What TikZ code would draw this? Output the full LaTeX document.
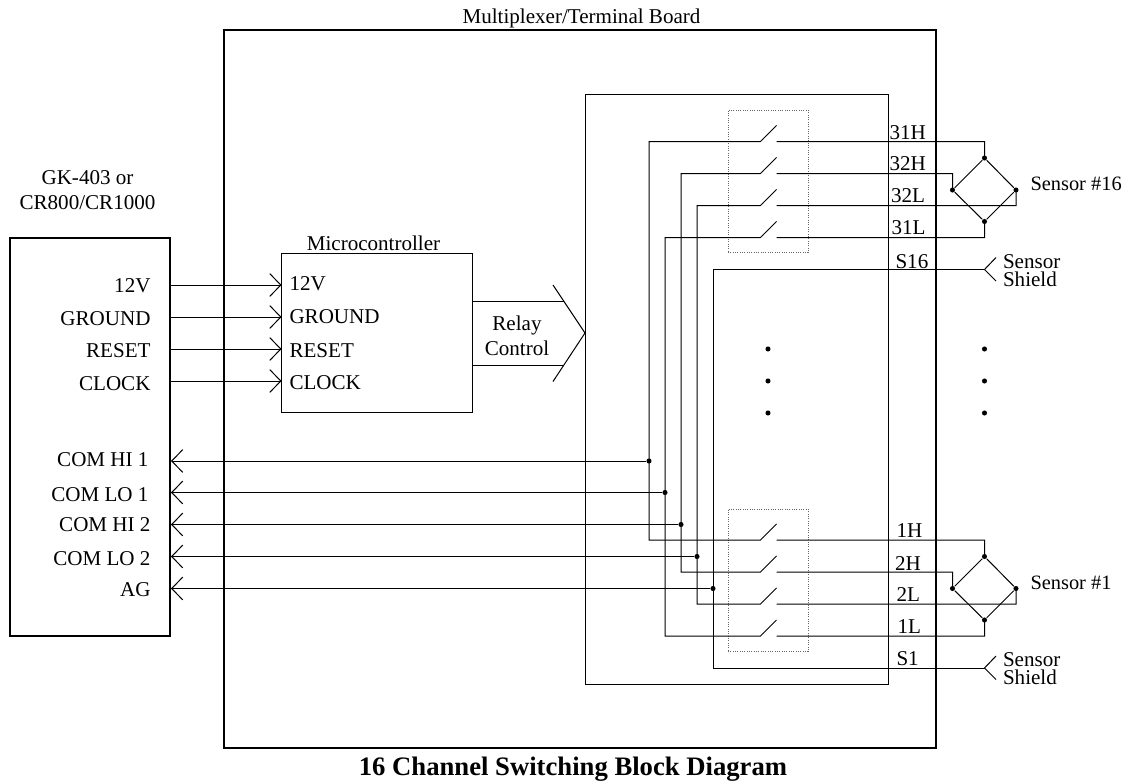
\documentclass[tikz,border=0pt]{standalone}
\usepackage{fontspec}
\setmainfont{Liberation Serif}
\usepackage{tikz}
\usetikzlibrary{arrows.meta, positioning}

\begin{document}
\begin{tikzpicture}[
        x=0.75pt, y=-0.75pt,
        line width=0.75pt,
        every node/.style={font=\fontsize{15.8}{18}\selectfont},
        frame/.style={rectangle, draw, line width=2.2pt, anchor=north west, inner sep=0pt, outer sep=0pt},
        box/.style={rectangle, draw, anchor=north west, inner sep=0pt, outer sep=0pt},
        relaybox/.style={rectangle, draw=black!60, densely dotted, anchor=north west, inner sep=0pt, outer sep=0pt, minimum width=60pt, minimum height=107pt},
        arrow/.style={-{Straight Barb[length=8.25pt, width=17pt, line width=0.75pt]}},
        wire/.style={line width=0.75pt},
        dot/.style={circle, fill=black, inner sep=0pt, minimum size=3.8pt},
        pin/.style={anchor=base west, inner sep=0pt},
        portl/.style={anchor=base east, inner sep=0pt},
        label/.style={anchor=base, align=center, inner sep=0pt},
        sensorname/.style={anchor=base west, inner sep=0pt, font=\fontsize{15.3}{18}\selectfont},
        shield/.style={anchor=north west, align=left, inner sep=0pt, font=\fontsize{15.8}{13.2}\selectfont}
    ]
    \useasboundingbox (0,0) rectangle (1133,782);

    % boxes
    \node[frame, minimum width=534pt, minimum height=538.5pt] (board) at (224,30) {};
    \node[frame, minimum width=120pt, minimum height=298.5pt] (logger) at (10,238) {};
    \node[box, minimum width=143.5pt, minimum height=119pt] (micro) at (281.5,253.5) {};
    \node[box, minimum width=227.5pt, minimum height=442.5pt] (mux) at (585,94) {};
    \node[relaybox] (relaytop) at (728,110) {};
    \node[relaybox] (relaybot) at (728,509) {};

    % titles
    \node[label] (boardname) at (581.5,23) {Multiplexer/Terminal Board};
    \node[label] (gkname) at (87.5,184) {GK-403 or};
    \node[label] (crname) at (87.5,209) {CR800/CR1000};
    \node[label] (microname) at (373.5,250) {Microcontroller};
    \node[label] (relayname) at (517,330.5) {Relay};
    \node[label] (ctrlname) at (517,355) {Control};
    \node[label, font=\fontsize{20}{22}\selectfont\bfseries] (title) at (573,775.5) {16 Channel Switching Block Diagram};

    % logger terminals
    \node[portl] (p12v) at (151,292.5) {12V};
    \node[portl] (pgnd) at (151,325.5) {GROUND};
    \node[portl] (prst) at (151,357) {RESET};
    \node[portl] (pclk) at (151,390) {CLOCK};
    \node[portl] (phi1) at (149,466.5) {COM HI 1};
    \node[portl] (plo1) at (149,501) {COM LO 1};
    \node[portl] (phi2) at (151,531.5) {COM HI 2};
    \node[portl] (plo2) at (151,565) {COM LO 2};
    \node[portl] (pag) at (151,596) {AG};

    % microcontroller terminals
    \node[pin] (m12v) at (289,290.5) {12V};
    \node[pin] (mgnd) at (289,323.5) {GROUND};
    \node[pin] (mrst) at (289,357) {RESET};
    \node[pin] (mclk) at (289,389) {CLOCK};

    \draw[arrow] (171,285) -- (281.5,285);
    \draw[arrow] (171,317) -- (281.5,317);
    \draw[arrow] (171,349) -- (281.5,349);
    \draw[arrow] (171,381) -- (281.5,381);

    % relay control
    \coordinate (chevtop) at (553,285);
    \coordinate (chevtip) at (585,333);
    \coordinate (chevbot) at (553,381.5);
    \draw (chevtop) -- (chevtip) -- (chevbot);
    \draw (473,301.5) -- (563.5,301.5);
    \draw (473,365.5) -- (563.5,365.5);

    % junctions on the common lines
    \node[dot] (jhi1) at (649,461) {};
    \node[dot] (jlo1) at (665,492.5) {};
    \node[dot] (jhi2) at (681,524.5) {};
    \node[dot] (jlo2) at (697,556.5) {};
    \node[dot] (jag) at (713,588.5) {};

    \draw[arrow] (jhi1) -- (171,461);
    \draw[arrow] (jlo1) -- (171,492.5);
    \draw[arrow] (jhi2) -- (171,524.5);
    \draw[arrow] (jlo2) -- (171,556.5);
    \draw[arrow] (jag) -- (171,588.5);

    % upper relays
    \draw[wire] (984.5,158) -- (984.5,141.5) -- (776.5,141.5) (776.5,125.5) -- (760.5,141.5) -- (649,141.5) -- (649,540) -- (760.5,540) -- (776.5,524) (776.5,540) -- (984.5,540) -- (984.5,556.5);
    \draw[wire] (952.5,190) -- (952.5,173.5) -- (776.5,173.5) (776.5,157.5) -- (760.5,173.5) -- (681,173.5) -- (681,572) -- (760.5,572) -- (776.5,556) (776.5,572) -- (952.5,572) -- (952.5,588.5);
    \draw[wire] (1016,190) -- (1016,205.5) -- (776.5,205.5) (776.5,189.5) -- (760.5,205.5) -- (697,205.5) -- (697,604) -- (760.5,604) -- (776.5,588) (776.5,604) -- (1016,604) -- (1016,588.5);
    \draw[wire] (984.5,221.5) -- (984.5,237.5) -- (776.5,237.5) (776.5,221.5) -- (760.5,237.5) -- (665,237.5) -- (665,636) -- (760.5,636) -- (776.5,620) (776.5,636) -- (984.5,636) -- (984.5,620);

    % shield lines
    \coordinate (shieldtop) at (984.5,269.5);
    \coordinate (shieldbot) at (984.5,668);
    \draw[wire] (shieldtop) -- (713,269.5) -- (713,668) -- (shieldbot);
    \draw (996,257.5) -- (shieldtop) -- (996,281);
    \draw (996,656) -- (shieldbot) -- (996,679.5);
    \node[shield] (shieldnamea) at (1002.5,254) {Sensor\\Shield};
    \node[shield] (shieldnameb) at (1002.5,652.5) {Sensor\\Shield};

    % bridges
    \node[dot] (s16t) at (984.5,158) {};
    \node[dot] (s16l) at (952.5,190) {};
    \node[dot] (s16r) at (1016,190) {};
    \node[dot] (s16b) at (984.5,221.5) {};
    \draw (s16t) -- (s16r) -- (s16b) -- (s16l) -- (s16t);
    \node[dot] (s1t) at (984.5,556.5) {};
    \node[dot] (s1l) at (952.5,588.5) {};
    \node[dot] (s1r) at (1016,588.5) {};
    \node[dot] (s1b) at (984.5,620) {};
    \draw (s1t) -- (s1r) -- (s1b) -- (s1l) -- (s1t);
    \node[sensorname] (s16name) at (1030,190.5) {Sensor \#16};
    \node[sensorname] (s1name) at (1030,589.5) {Sensor \#1};

    % terminal labels
    \node[pin] (t31h) at (889,139) {31H};
    \node[pin] (t32h) at (889,170.5) {32H};
    \node[pin] (t32l) at (890.5,202.5) {32L};
    \node[pin] (t31l) at (891,234.5) {31L};
    \node[pin] (ts16) at (895,268.5) {S16};
    \node[pin] (t1h) at (896,537.5) {1H};
    \node[pin] (t2h) at (894.5,570) {2H};
    \node[pin] (t2l) at (896,601.5) {2L};
    \node[pin] (t1l) at (897,633) {1L};
    \node[pin] (ts1) at (896,665) {S1};

    % continuation dots
    \node[dot] (va) at (768,349) {};
    \node[dot] (vb) at (768,381) {};
    \node[dot] (vc) at (768,413) {};
    \node[dot] (wa) at (984.5,349) {};
    \node[dot] (wb) at (984.5,381) {};
    \node[dot] (wc) at (984.5,413) {};

    \end{tikzpicture}
\end{document}
